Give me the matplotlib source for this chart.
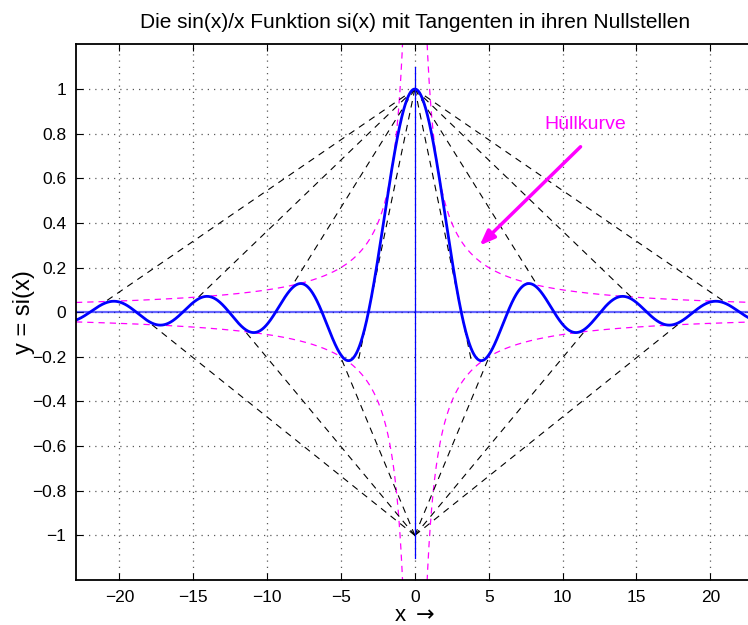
import numpy as np
import matplotlib
matplotlib.use('Agg')
import matplotlib.pyplot as plt

plt.rcParams['font.family'] = ['Liberation Sans', 'DejaVu Sans']
plt.rcParams['mathtext.fontset'] = 'dejavusans'

# chart parameters
x_lim = [-7.3*np.pi, 7.3*np.pi]
y_lim = [-1.2, 1.2]
x_ticks = [-20, -15, -10, -5, 0, 5, 10, 15, 20]
y_ticks = [-1, -0.8, -0.6, -0.4, -0.2, 0, 0.2, 0.4, 0.6, 0.8, 1]
zero_index = [1, 2, 3, 4, 5, 6, 7]      # zeros at n*pi where tangents are drawn
title_text = 'Die sin(x)/x Funktion si(x) mit Tangenten in ihren Nullstellen'
label_text = 'Hüllkurve'
label_pos = [11.5, 0.84]
arrow_start = [11.35, 0.75]
arrow_end = [4.25, 0.29]

x = np.linspace(x_lim[0], x_lim[1], 3000)
x[np.abs(x) < 1e-9] = 1e-9
si = np.sin(x)/x
xl = x[x < 0]
xr = x[x > 0]

fig = plt.figure(figsize=(7.48, 6.25), dpi=100)
ax = fig.add_axes([0.1016, 0.072, 0.906, 0.857])

# envelope +-1/x, each branch separately
for xb in [xl, xr]:
    ax.plot(xb, 1/xb, '--', color='magenta', lw=0.9, dashes=(5, 4))
    ax.plot(xb, -1/xb, '--', color='magenta', lw=0.9, dashes=(5, 4))

# tangents in the zeros, from x=0 up to the envelope
for n in zero_index:
    for s in [1, -1]:
        a = s*n*np.pi
        sign = (-1)**n
        A = abs(a)
        disc = A*A - 4*A
        if disc > 0:
            xe = (A + np.sqrt(disc))/2
        else:
            xe = A + 0.7
        xe = s*xe
        xt = np.array([0, xe])
        yt = sign*(xt - a)/a
        ax.plot(xt, yt, '--', color='black', lw=0.8, dashes=(6, 5))

# axes lines
ax.axhline(0, color='blue', lw=1.6, alpha=0.6)
ax.plot([0, 0], [-1.1, 1.1], color='blue', lw=0.9)

# si(x)
ax.plot(x, si, color='blue', lw=2)

ax.annotate('', xy=arrow_end, xytext=arrow_start,
            arrowprops=dict(arrowstyle='-|>,head_length=0.9,head_width=0.35',
                            color='magenta', lw=2.5))
ax.text(label_pos[0], label_pos[1], label_text, color='magenta', fontsize=14,
        ha='center', va='center')

ax.set_xlim(x_lim)
ax.set_ylim(y_lim)
ax.set_xticks(x_ticks)
ax.set_yticks(y_ticks)
ax.set_yticklabels([f'{v:g}'.replace('-', '\u2212') for v in y_ticks])
ax.tick_params(direction='in', top=True, right=True, labelsize=12.5, length=5, pad=7)
ax.grid(True, linestyle=(0, (1, 4)), color='0.35', lw=0.9)
for sp in ax.spines.values():
    sp.set_linewidth(1.3)

ax.set_title(title_text, fontsize=15, pad=12)
ax.set_xlabel('x $\\rightarrow$', fontsize=16, labelpad=0)
ax.set_ylabel('y = si(x)', fontsize=17, labelpad=-2)

fig.savefig('out.png', dpi=100)
